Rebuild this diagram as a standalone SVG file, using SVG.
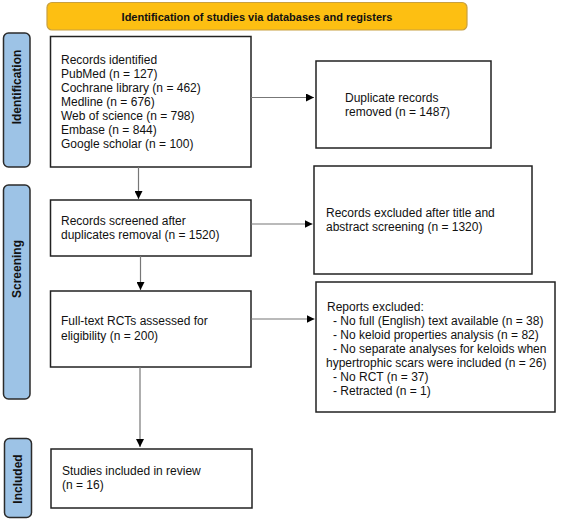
<svg xmlns="http://www.w3.org/2000/svg" width="574" height="522" viewBox="0 0 574 522">
<style>
text{font-family:"Liberation Sans",Arial,sans-serif;font-size:12px;fill:#111}
.box{fill:#fff;stroke:#222;stroke-width:1.5}
.side{fill:#9DC3E6;stroke:#2b2b2b;stroke-width:1.5}
.lbl{font-weight:bold;font-size:12px}
.ttl{font-weight:bold;font-size:11px}
.conn{stroke:#777;stroke-width:1.2;fill:none}
</style>
<defs>
<marker id="ah" viewBox="0 0 10 10" refX="10" refY="5" markerWidth="8" markerHeight="8" markerUnits="userSpaceOnUse" orient="auto">
<path d="M0,0 L10,5 L0,10 z" fill="#000"/>
</marker>
</defs>
<rect width="574" height="522" fill="#fff"/>

<g id="title">
<rect x="47" y="2.5" width="420" height="27.5" rx="5" fill="#FDBF12" stroke="#C8A040" stroke-width="1.2"/>
<text x="257" y="20.5" text-anchor="middle" class="ttl">Identification of studies via databases and registers</text>
</g>

<g id="side-identification">
<rect x="3.5" y="33" width="26.5" height="134" rx="5" class="side"/>
<text class="lbl" transform="translate(21,87) rotate(-90)" text-anchor="middle">Identification</text>
</g>
<g id="side-screening">
<rect x="3.5" y="185" width="26.5" height="214" rx="5" class="side"/>
<text class="lbl" transform="translate(21,269) rotate(-90)" text-anchor="middle">Screening</text>
</g>
<g id="side-included">
<rect x="4.5" y="438.5" width="27" height="79" rx="5" class="side"/>
<text class="lbl" transform="translate(22,479) rotate(-90)" text-anchor="middle">Included</text>
</g>

<g id="records-identified">
<rect x="50.5" y="36.5" width="200.5" height="130.5" class="box"/>
<text x="61" y="64">Records identified</text>
<text x="61" y="78">PubMed (n = 127)</text>
<text x="61" y="92">Cochrane library (n = 462)</text>
<text x="61" y="106">Medline (n = 676)</text>
<text x="61" y="120">Web of science (n = 798)</text>
<text x="61" y="134">Embase (n = 844)</text>
<text x="61" y="148">Google scholar (n = 100)</text>
</g>

<g id="duplicates">
<rect x="316" y="61" width="175" height="87" class="box"/>
<text x="345" y="102">Duplicate records</text>
<text x="345" y="116">removed (n = 1487)</text>
</g>

<g id="records-screened">
<rect x="50.5" y="200" width="200.5" height="56" class="box"/>
<text x="61" y="225">Records screened after</text>
<text x="61" y="239">duplicates removal (n = 1520)</text>
</g>

<g id="records-excluded">
<rect x="314" y="166" width="218" height="108" class="box"/>
<text x="326" y="217">Records excluded after title and</text>
<text x="326" y="231">abstract screening (n = 1320)</text>
</g>

<g id="full-text">
<rect x="50.5" y="291" width="200.5" height="76" class="box"/>
<text x="61" y="325">Full-text RCTs assessed for</text>
<text x="61" y="340">eligibility (n = 200)</text>
</g>

<g id="reports-excluded">
<rect x="316" y="282" width="239" height="130" class="box"/>
<text x="327" y="311">Reports excluded:</text>
<text x="333" y="325">- No full (English) text available (n = 38)</text>
<text x="333" y="339">- No keloid properties analysis (n = 82)</text>
<text x="333" y="353">- No separate analyses for keloids when</text>
<text x="326" y="367">hypertrophic scars were included (n = 26)</text>
<text x="333" y="381">- No RCT (n = 37)</text>
<text x="333" y="395">- Retracted (n = 1)</text>
</g>

<g id="included">
<rect x="51" y="449" width="201" height="59" class="box"/>
<text x="62" y="475">Studies included in review</text>
<text x="62" y="489">(n = 16)</text>
</g>

<g id="connectors">
<line x1="251" y1="97.5" x2="314" y2="97.5" class="conn" marker-end="url(#ah)"/>
<line x1="138.5" y1="167" x2="138.5" y2="199" class="conn" marker-end="url(#ah)"/>
<line x1="251" y1="224" x2="312.5" y2="224" class="conn" marker-end="url(#ah)"/>
<line x1="140.5" y1="256" x2="140.5" y2="290" class="conn" marker-end="url(#ah)"/>
<line x1="251" y1="319" x2="314.5" y2="319" class="conn" marker-end="url(#ah)"/>
<line x1="140" y1="367" x2="140" y2="447" class="conn" marker-end="url(#ah)"/>
</g>
</svg>
